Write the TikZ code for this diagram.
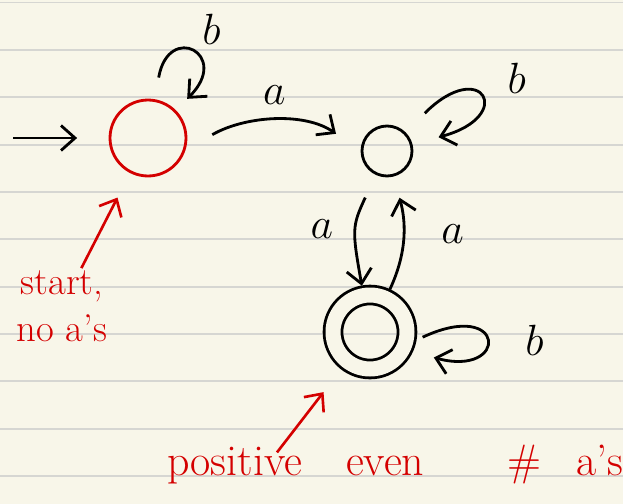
\documentclass[tikz,border=0pt]{standalone}
\usepackage{tikz}
\usetikzlibrary{arrows.meta, positioning, calc}

\definecolor{papel}{RGB}{248,246,233}
\definecolor{renglon}{RGB}{214,214,210}
\definecolor{rojo}{RGB}{212,0,0}

\begin{document}
\begin{tikzpicture}[
				x=0.02cm, y=-0.02cm,
				>={Straight Barb[length=2.8mm, width=5mm]},
				state/.style={draw, circle, line width=1.6pt, inner sep=0pt},
				final/.style={state, double=papel, double distance=0.3cm, outer sep=0.2cm},
				arrow/.style={->, line width=1.6pt},
				note/.style={->, draw=rojo, line width=1.5pt},
				lbl/.style={font=\fontsize{25pt}{28pt}\selectfont, inner sep=1pt},
				txt/.style={font=\fontsize{22pt}{27pt}\selectfont, text=rojo, inner sep=1pt, align=center}
				]
				
				% Hoja
				\useasboundingbox (0,0) rectangle (623,504);
				\fill[papel] (0,0) rectangle (623,504);
				\foreach \k in {0,...,10}
				\draw[renglon, line width=1.1pt] (0,{2.5+47.35*\k}) -- (623,{2.5+47.35*\k});
				
				% Estados
				\node[state, draw=rojo, minimum size=1.52cm] (q0) at (148,138) {};
				\node[state, minimum size=1cm] (q1) at (387,151) {};
				\node[final, minimum size=1.48cm] (q2) at (370,332) {};
				
				% Inicio
				\coordinate (ini) at (13,138);
				\draw[arrow, shorten >=0.63cm] (ini) -- (q0);
				
				% Transiciones
				\path[arrow]
				(q0.-18) edge[out=30, in=145, shorten <=0.62cm, shorten >=0.6cm]
				node[lbl, above=3mm] {$a$} (q1.180)
				
				(q1) edge[out=245, in=100, looseness=1.3, shorten <=0.5cm]
				node[lbl, left=4mm] {$a$} (q2)
				
				(q2) edge[out=65, in=-75, shorten >=0.44cm]
				node[lbl, right=7mm] {$a$} (q1);
				
				% Lazos
				\path[arrow]
				(q0) edge[out=80, in=45, looseness=8.5, shorten <=0.44cm, shorten >=0.32cm]
				node[lbl, xshift=0.4cm, yshift=0.5cm] {$b$} (q0)
				
				(q1) edge[out=45, in=15, min distance=2.16cm, shorten <=0.54cm, shorten >=0.54cm]
				node[lbl, xshift=0.8cm, yshift=0.42cm] {$b$} (q1)
				
				(q2.-10) edge[out=25, in=-15, min distance=2cm, shorten <=0.14cm, shorten >=0.44cm]
				node[lbl, right=7.5mm] {$b$} (q2.-25);
				
				% Notas
				\node[txt] (startnote) at (62,306) {start,\\no a's};
				\node[txt, anchor=base west, font=\fontsize{25pt}{28pt}\selectfont] (posnote) at (165,475) {positive\hspace{1em}even\hspace{1.9em}\#\hspace{0.8em}a's};
				
				\draw[note, shorten >=0.55cm] (startnote) -- (q0);
				\draw[note, shorten >=0.58cm] ([xshift=2.24cm, yshift=-2mm]posnote.north west) -- (q2);
				
\end{tikzpicture}
\end{document}
